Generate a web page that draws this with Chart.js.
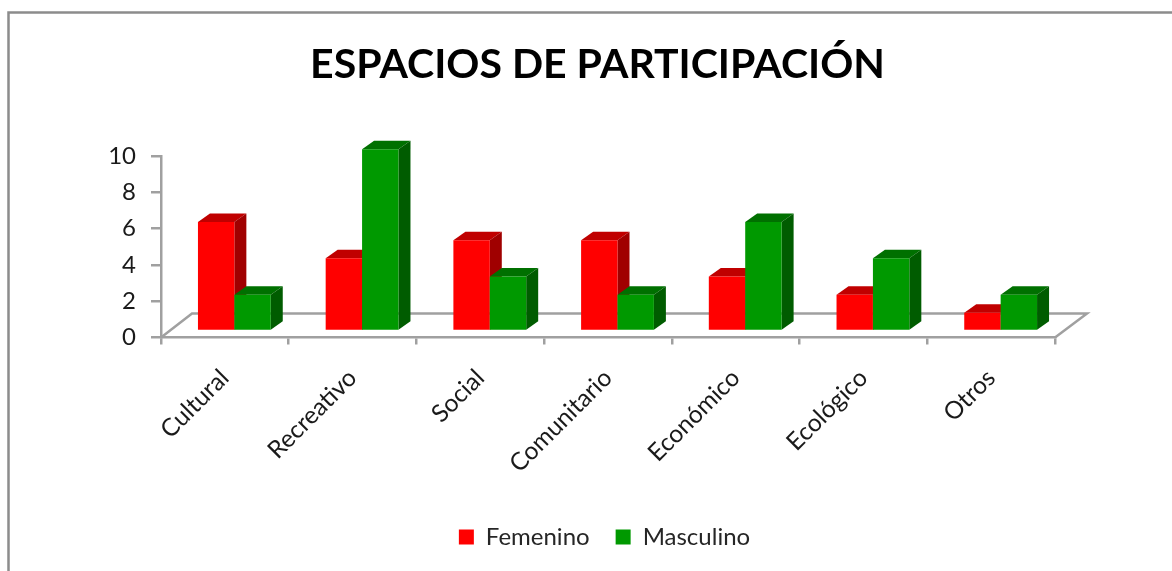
<!DOCTYPE html>
<html><head><meta charset="utf-8">
<style>html,body{margin:0;padding:0;background:#fff;overflow:hidden}#w{position:relative;width:1172px;height:571px}</style>
<script src="https://cdn.jsdelivr.net/npm/chart.js@4"></script></head>
<body><div id="w"><canvas id="c" width="1172" height="571"></canvas></div>
<script>
const categories=["Cultural","Recreativo","Social","Comunitario","Económico","Ecológico","Otros"];
const femenino=[6,4,5,5,3,2,1];
const masculino=[2,10,3,2,6,4,2];
const titleText="ESPACIOS DE PARTICIPACIÓN";
const FONT='Lato, "Open Sans", sans-serif';
const DX=9.5,DY=-6.5,DEPTH_X=12,DEPTH_Y=-8.5;
const sideColors=[["#c00000","#a00000"],["#007000","#005c00"]];

const bars3d={
  id:'bars3d',
  afterLayout(chart){
    chart.titleBlock.left+=70;chart.titleBlock.right+=70;
    chart.legend.left+=77;chart.legend.right+=77;
  },
  beforeDraw(chart){
    const c=chart.ctx;c.save();
    c.strokeStyle='#8c8c8c';c.lineWidth=2.5;
    c.beginPath();c.moveTo(8.5,580);c.lineTo(8.5,12.5);c.lineTo(1180,12.5);c.stroke();
    c.restore();
  },
  beforeDatasetsDraw(chart){
    const c=chart.ctx,a=chart.chartArea;
    c.save();c.strokeStyle='#a0a0a0';c.lineWidth=2.5;
    c.beginPath();c.moveTo(a.left,a.bottom);c.lineTo(a.left+31,a.bottom-24);c.lineTo(a.right+32,a.bottom-24);c.lineTo(a.right,a.bottom);c.stroke();
    c.restore();
  },
  beforeDatasetDraw(){return false;},
  afterDatasetsDraw(chart){
    const c=chart.ctx;
    c.save();c.translate(DX,DY);
    [0,1].forEach(i=>{
      const cols=sideColors[i];
      chart.getDatasetMeta(i).data.forEach(b=>{
        const l=b.x-b.width/2,r=b.x+b.width/2,t=b.y,bo=b.base;
        c.fillStyle=cols[0];
        c.beginPath();c.moveTo(l,t);c.lineTo(l+DEPTH_X,t+DEPTH_Y);c.lineTo(r+DEPTH_X,t+DEPTH_Y);c.lineTo(r,t);c.closePath();c.fill();
        c.fillStyle=cols[1];
        c.beginPath();c.moveTo(r,t);c.lineTo(r+DEPTH_X,t+DEPTH_Y);c.lineTo(r+DEPTH_X,bo+DEPTH_Y);c.lineTo(r,bo);c.closePath();c.fill();
        b.draw(c);
      });
    });
    c.restore();
  }
};

new Chart(document.getElementById('c'),{
  type:'bar',
  data:{labels:categories,datasets:[
    {label:'Femenino',data:femenino,backgroundColor:'#ff0000'},
    {label:'Masculino',data:masculino,backgroundColor:'#009900'}
  ]},
  plugins:[bars3d],
  options:{
    responsive:false,animation:false,
    layout:{padding:{left:0,right:117,top:0,bottom:12}},
    datasets:{bar:{barPercentage:1,categoryPercentage:0.57}},
    scales:{
      y:{min:0,max:10,afterFit(s){s.width=161;},
        ticks:{stepSize:2,color:'#1a1a1a',font:{family:FONT,size:24},padding:15},
        grid:{drawOnChartArea:false,color:'#a0a0a0',lineWidth:2.5,tickLength:10},
        border:{color:'#a0a0a0',width:2.5}},
      x:{afterFit(s){s.height=161.5;},
        ticks:{minRotation:45,maxRotation:45,color:'#1a1a1a',font:{family:FONT,size:24.5},padding:19},
        grid:{drawOnChartArea:false,color:'#a0a0a0',lineWidth:2.5,tickLength:7},
        border:{color:'#a0a0a0',width:2.5}}
    },
    plugins:{
      title:{display:true,text:titleText,color:'#000',font:{family:FONT,size:41,weight:'bold'},padding:{top:40,bottom:66.6}},
      legend:{position:'bottom',labels:{boxWidth:15,boxHeight:15,padding:26,color:'#262626',font:{family:FONT,size:24}}},
      tooltip:{enabled:false}
    }
  }
});
</script></body></html>
